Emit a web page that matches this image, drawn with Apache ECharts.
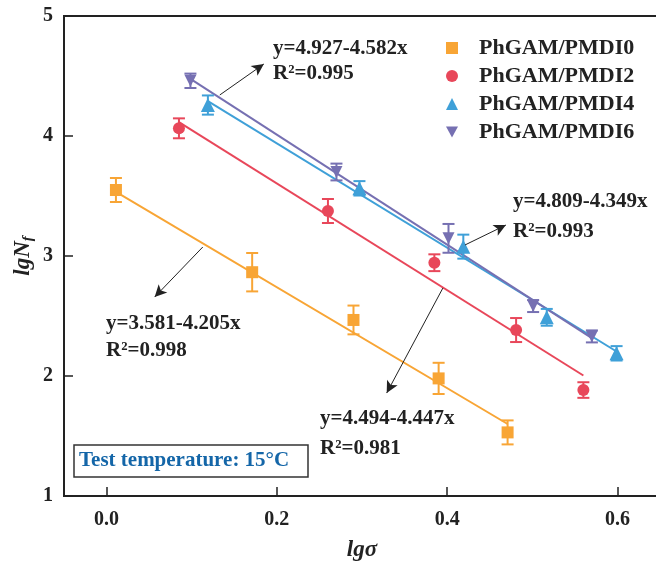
<!DOCTYPE html>
<html>
<head>
<meta charset="utf-8">
<script src="https://cdn.jsdelivr.net/npm/echarts@6/dist/echarts.min.js"></script>
<style>html,body{margin:0;padding:0;background:#fff}#c{width:656px;height:571px}</style>
</head>
<body>
<div id="c"></div>
<script>
// ---- data ----
const seriesNames = ['PhGAM/PMDI0', 'PhGAM/PMDI2', 'PhGAM/PMDI4', 'PhGAM/PMDI6'];
const pmdi0X = [0.011, 0.171, 0.290, 0.390, 0.471];
const pmdi0Y = [3.55, 2.865, 2.467, 1.98, 1.53];
const pmdi0Err = [0.10, 0.16, 0.12, 0.13, 0.10];
const pmdi2X = [0.085, 0.260, 0.385, 0.481, 0.560];
const pmdi2Y = [4.064, 3.375, 2.944, 2.383, 1.883];
const pmdi2Err = [0.083, 0.10, 0.07, 0.10, 0.065];
const pmdi4X = [0.119, 0.297, 0.419, 0.517, 0.599];
const pmdi4Y = [4.258, 3.564, 3.078, 2.489, 2.189];
const pmdi4Err = [0.08, 0.06, 0.10, 0.07, 0.06];
const pmdi6X = [0.0985, 0.270, 0.4016, 0.501, 0.570];
const pmdi6Y = [4.46, 3.70, 3.147, 2.583, 2.33];
const pmdi6Err = [0.06, 0.07, 0.12, 0.05, 0.05];
// fitted line end points
const fit0 = [[0.011, 3.535], [0.471, 1.600]];
const fit2 = [[0.085, 4.116], [0.560, 2.004]];
const fit4 = [[0.119, 4.291], [0.599, 2.204]];
const fit6 = [[0.0985, 4.476], [0.570, 2.315]];
const equations = ['y=3.581-4.205x', 'y=4.494-4.447x', 'y=4.809-4.349x', 'y=4.927-4.582x'];
const r2Labels = ['R²=0.998', 'R²=0.981', 'R²=0.993', 'R²=0.995'];
// annotation arrows [tail, head] in data coords
const arrow0 = [[0.113, 3.075], [0.0565, 2.658]];
const arrow2 = [[0.395, 2.733], [0.329, 1.858]];
const arrow4 = [[0.421, 3.092], [0.469, 3.258]];
const arrow6 = [[0.133, 4.342], [0.1847, 4.60]];
const xTickValues = [0, 0.2, 0.4, 0.6];
const yTickValues = [1, 2, 3, 4, 5];
const noteText = 'Test temperature: 15°C';

// ---- chart ----
const FONT = "'Liberation Serif','Times New Roman',serif";
const colors = ['#F8A535', '#E8475A', '#3FA0D8', '#7670B2'];
const symbols = ['rect', 'circle', 'triangle', 'path://M0,0 L10,0 L5,9 Z'];
const xs = [pmdi0X, pmdi2X, pmdi4X, pmdi6X];
const ys = [pmdi0Y, pmdi2Y, pmdi4Y, pmdi6Y];
const errs = [pmdi0Err, pmdi2Err, pmdi4Err, pmdi6Err];
const fits = [fit0, fit2, fit4, fit6];
const arrows = [arrow0, arrow2, arrow4, arrow6];

const chart = echarts.init(document.getElementById('c'), null, {renderer: 'canvas'});
const series = [];
for (let i = 0; i < 4; i++) {
  series.push({
    name: seriesNames[i] + '_fit', type: 'line', data: fits[i], showSymbol: false,
    lineStyle: {color: colors[i], width: 2}, z: 2, silent: true,
    markLine: {
      silent: true, symbol: ['none', 'arrow'], symbolSize: [9, 12],
      lineStyle: {color: '#222', width: 1, type: 'solid'}, label: {show: false},
      data: [[{coord: arrows[i][0]}, {coord: arrows[i][1]}]]
    }
  });
  series.push({
    name: seriesNames[i] + '_err', type: 'custom', z: 3,
    data: xs[i].map((x, k) => [x, ys[i][k], errs[i][k]]),
    renderItem: function (params, api) {
      const x = api.value(0), y = api.value(1), e = api.value(2);
      const top = api.coord([x, y + e]);
      const bot = api.coord([x, y - e]);
      const w = 6;
      const st = {stroke: colors[i], lineWidth: 2};
      return {type: 'group', children: [
        {type: 'line', shape: {x1: top[0], y1: top[1], x2: bot[0], y2: bot[1]}, style: st},
        {type: 'line', shape: {x1: top[0] - w, y1: top[1], x2: top[0] + w, y2: top[1]}, style: st},
        {type: 'line', shape: {x1: bot[0] - w, y1: bot[1], x2: bot[0] + w, y2: bot[1]}, style: st}
      ]};
    }
  });
  series.push({
    name: seriesNames[i], type: 'scatter', z: 4,
    data: xs[i].map((x, k) => [x, ys[i][k]]),
    symbol: symbols[i], symbolSize: i === 2 ? 14 : 12,
    itemStyle: {color: colors[i], opacity: 1}
  });
}

const txtStyle = {fontFamily: FONT, fontWeight: 'bold', fontSize: 21, fill: '#222'};
function label(x, y, text) {
  return {type: 'text', left: x, top: y, style: Object.assign({text: text}, txtStyle), z: 10};
}
const graphics = [
  label(106, 313, equations[0]), label(106, 340, r2Labels[0]),
  label(320, 408, equations[1]), label(320, 438, r2Labels[1]),
  label(513, 191, equations[2]), label(513, 221, r2Labels[2]),
  label(273, 38, equations[3]), label(273, 63, r2Labels[3]),
  {type: 'rect', shape: {x: 74, y: 445, width: 234, height: 32},
   style: {fill: '#fff', stroke: '#333', lineWidth: 1.5}, z: 10},
  {type: 'text', left: 79, top: 450, z: 11,
   style: {text: noteText, fontFamily: FONT, fontWeight: 'bold', fontSize: 21, fill: '#1466A8'}}
];

const option = {
  animation: false,
  backgroundColor: '#fff',
  grid: {left: 64, top: 16, bottom: 75, right: -4, containLabel: false, outerBoundsMode: 'none',
    show: true, borderColor: '#222', borderWidth: 2, backgroundColor: 'transparent'},
  legend: {
    data: seriesNames, orient: 'vertical', left: 441, top: 32,
    itemWidth: 12, itemHeight: 12, itemGap: 6,
    textStyle: {fontFamily: FONT, fontWeight: 'bold', fontSize: 22, color: '#222', lineHeight: 20, padding: [0, 0, 0, 16]}
  },
  xAxis: {
    type: 'value', min: -0.05, max: 0.65,
    name: '{i|lgσ}', nameLocation: 'middle', nameGap: 43, nameMoveOverlap: false,
    nameTextStyle: {rich: {i: {fontFamily: FONT, fontStyle: 'italic', fontWeight: 'bold', fontSize: 23, color: '#222'}}},
    axisLine: {show: true, onZero: false, lineStyle: {color: '#222', width: 2}},
    axisTick: {show: true, inside: true, length: 9, customValues: xTickValues, lineStyle: {color: '#222', width: 1.5}},
    axisLabel: {customValues: xTickValues, formatter: v => v.toFixed(1), margin: 14,
      fontFamily: FONT, fontWeight: 'bold', fontSize: 20, color: '#222'},
    splitLine: {show: false}
  },
  yAxis: {
    type: 'value', min: 1, max: 5, interval: 1,
    name: '{i|lgN}{s|f}', nameLocation: 'middle', nameGap: 28, nameMoveOverlap: false,
    nameTextStyle: {rich: {
      i: {fontFamily: FONT, fontStyle: 'italic', fontWeight: 'bold', fontSize: 23, color: '#222'},
      s: {fontFamily: FONT, fontStyle: 'italic', fontWeight: 'bold', fontSize: 15, color: '#222', verticalAlign: 'bottom', padding: [10, 0, 0, 0]}
    }},
    axisLine: {show: true, onZero: false, lineStyle: {color: '#222', width: 2}},
    axisTick: {show: true, inside: true, length: 9, lineStyle: {color: '#222', width: 1.5}},
    axisLabel: {margin: 11, fontFamily: FONT, fontWeight: 'bold', fontSize: 20, color: '#222'},
    splitLine: {show: false}
  },
  graphic: graphics,
  series: series
};
chart.setOption(option);
</script>
</body>
</html>
